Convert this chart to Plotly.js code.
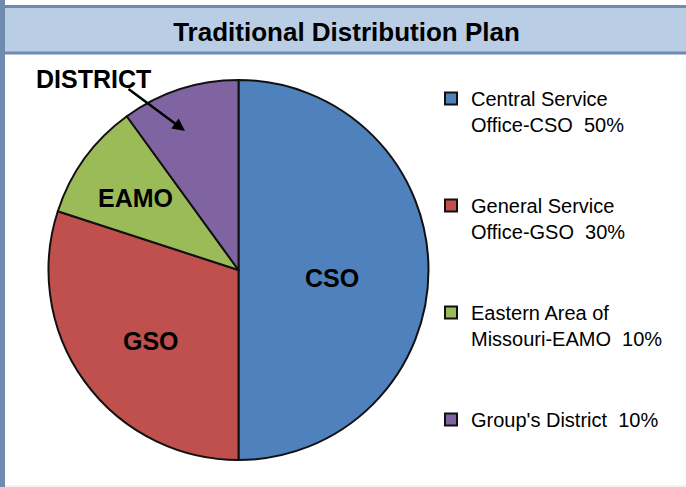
<!DOCTYPE html>
<html>
<head>
<meta charset="utf-8">
<script src="https://cdn.plot.ly/plotly-3.0.1.min.js"></script>
<style>
  html, body { margin: 0; padding: 0; background: #ffffff; }
  #chart { width: 686px; height: 487px; }
</style>
</head>
<body>
<div id="chart"></div>
<script>
// ---- data ----
const categories = ["Central Service\nOffice-CSO", "General Service\nOffice-GSO", "Eastern Area of\nMissouri-EAMO", "Group's District"];
const shares = [50, 30, 10, 10];
const sliceTags = ["CSO", "GSO", "EAMO", "DISTRICT"];
const sliceColors = ["#4F81BD", "#C0504D", "#9BBB59", "#8064A2"];
const chartTitle = "Traditional Distribution Plan";

// ---- helpers ----
const W = 686, H = 487;
const px = x => x / W;
const py = y => 1 - y / H;
const FONT = "Liberation Sans, Arial, sans-serif";
const SLATE = "#6F8BAD";

const legendLabels = categories.map((c, i) =>
  c.replace("\n", "<br>") + "&nbsp;&nbsp;" + shares[i] + "%" +
  (i < categories.length - 1 ? "<br>&nbsp;<br>&nbsp;" : ""));

const trace = {
  type: "pie",
  labels: legendLabels,
  values: shares,
  sort: false,
  direction: "clockwise",
  rotation: 0,
  textinfo: "none",
  hoverinfo: "label+percent",
  marker: { colors: sliceColors, line: { color: "#111111", width: 2 } },
  domain: { x: [px(48.5), px(428.5)], y: [py(460), py(80)] }
};

// slice label positions (layout only)
const tagPos = [[332, 278], [151, 341], [135, 198], [93, 79]];
const annotations = sliceTags.map((t, i) => ({
  text: t, showarrow: false, xref: "paper", yref: "paper",
  x: px(tagPos[i][0]), y: py(tagPos[i][1]), xanchor: "center", yanchor: "middle",
  font: { family: FONT, size: 25, color: "#000000", weight: "bold" }
}));
annotations.push({
  text: "", xref: "paper", yref: "paper",
  x: px(185), y: py(131), axref: "pixel", ayref: "pixel", ax: -58, ay: -43,
  showarrow: true, arrowhead: 2, arrowsize: 1, arrowwidth: 2.5, arrowcolor: "#000000",
  standoff: 0, startstandoff: 0
});

const layout = {
  width: W, height: H,
  margin: { l: 0, r: 0, t: 0, b: 0 },
  paper_bgcolor: "#ffffff",
  title: {
    text: "<b>" + chartTitle + "</b>",
    font: { family: FONT, size: 26, color: "#000000" },
    x: px(346.5), xanchor: "center", xref: "paper",
    y: py(32), yanchor: "middle", yref: "container"
  },
  showlegend: true,
  legend: {
    x: px(431), xanchor: "left", y: py(79), yanchor: "top",
    bgcolor: "rgba(0,0,0,0)", valign: "top",
    font: { family: FONT, size: 20, color: "#000000" }
  },
  shapes: [
    { type: "rect", xref: "paper", yref: "paper", layer: "below",
      x0: px(1.5), x1: px(700), y0: py(6.5), y1: py(53),
      fillcolor: "#B9CDE5", line: { color: SLATE, width: 3 } },
    { type: "rect", xref: "paper", yref: "paper", layer: "below",
      x0: 0, x1: px(5), y0: 0, y1: 1,
      fillcolor: SLATE, line: { width: 0 } },
    { type: "line", xref: "paper", yref: "paper", layer: "below",
      x0: px(5), x1: 1, y0: py(486), y1: py(486),
      line: { color: "#E6E6E6", width: 1 } }
  ],
  annotations: annotations
};

Plotly.newPlot("chart", [trace], layout, { displayModeBar: false, staticPlot: true });
</script>
</body>
</html>
